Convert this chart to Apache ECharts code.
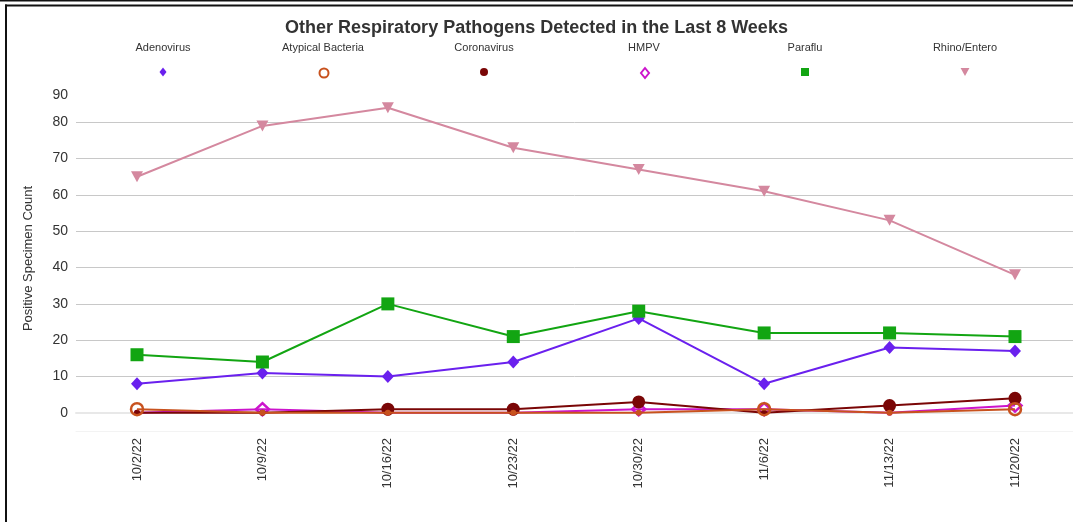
<!DOCTYPE html>
<html>
<head>
<meta charset="utf-8">
<script src="https://cdn.jsdelivr.net/npm/echarts@6/dist/echarts.min.js"></script>
<style>html,body{margin:0;padding:0;background:#fff}#c{width:1073px;height:522px}</style>
</head>
<body>
<div id="c"></div>
<script>
const categories = ['10/2/22','10/9/22','10/16/22','10/23/22','10/30/22','11/6/22','11/13/22','11/20/22'];
const adenovirus = [8, 11, 10, 14, 26, 8, 18, 17];
const atypicalBacteria = [1, 0, 0, 0, 0, 1, 0, 1];
const coronavirus = [0, 0, 1, 1, 3, 0, 2, 4];
const hmpv = [0, 1, 0, 0, 1, 1, 0, 2];
const paraflu = [16, 14, 30, 21, 28, 22, 22, 21];
const rhinoEntero = [65, 79, 84, 73, 67, 61, 53, 38];
const yTickLabels = [0, 10, 20, 30, 40, 50, 60, 70, 80, 90];
const yGridValues = [0, 10, 20, 30, 40, 50, 60, 70, 80];

const FONT = "'Liberation Sans', Arial, sans-serif";
const TRI_DOWN = 'path://M0,0L10,0L5,9Z';

const defs = [
  {name: 'Adenovirus', data: adenovirus, color: '#6a20ee', symbol: 'diamond', size: [12, 13], hollow: false, cx: 163, icon: 'diamond', iw: 7, ih: 9, z: 2},
  {name: 'Atypical Bacteria', data: atypicalBacteria, color: '#c8521e', symbol: 'circle', size: 12, hollow: true, cx: 323, icon: 'circle', iw: 9, ih: 9, z: 5},
  {name: 'Coronavirus', data: coronavirus, color: '#7a0606', symbol: 'circle', size: 13, hollow: false, cx: 484, icon: 'circle', iw: 8, ih: 8, z: 4},
  {name: 'HMPV', data: hmpv, color: '#cc14cc', symbol: 'diamond', size: [13, 12], hollow: true, cx: 644, icon: 'diamond', iw: 8, ih: 10, z: 3},
  {name: 'Paraflu', data: paraflu, color: '#12a512', symbol: 'rect', size: 13, hollow: false, cx: 805, icon: 'rect', iw: 8, ih: 8, z: 2},
  {name: 'Rhino/Entero', data: rhinoEntero, color: '#d4889f', symbol: TRI_DOWN, size: [12, 11], hollow: false, cx: 965, icon: TRI_DOWN, iw: 9, ih: 8, z: 2}
];

const chart = echarts.init(document.getElementById('c'), null, {renderer: 'canvas'});

const titles = [{
  text: 'Other Respiratory Pathogens Detected in the Last 8 Weeks',
  left: 'center', top: 19, padding: 0,
  textStyle: {fontFamily: FONT, fontSize: 18, fontWeight: 'bold', color: '#333'}
}];
defs.forEach(d => titles.push({
  text: d.name, left: d.cx, top: 42, padding: 0, textAlign: 'center',
  textStyle: {fontFamily: FONT, fontSize: 11, fontWeight: 'normal', color: '#333'}
}));

const legends = defs.map(d => ({
  data: [{name: d.name, icon: d.icon, itemStyle: d.hollow ? {color: '#fff', borderColor: d.color, borderWidth: 2} : {color: d.color, borderWidth: 0}}],
  left: d.cx - d.iw / 2, top: 72 - d.ih / 2, padding: 0,
  itemWidth: d.iw, itemHeight: d.ih,
  formatter: () => '',
  textStyle: {fontSize: 1}
}));

const series = defs.map(d => ({
  name: d.name, type: 'line', z: d.z,
  data: d.data.map(v => v === 0
    ? {value: v, symbol: 'circle', symbolSize: 6, itemStyle: {color: d.color, borderWidth: 0}}
    : v),
  xAxisIndex: 1, yAxisIndex: 1,
  symbol: d.symbol, symbolSize: d.size, showAllSymbol: true,
  clip: false,
  lineStyle: {color: d.color, width: 2},
  itemStyle: d.hollow ? {color: 'rgba(255,255,255,0)', borderColor: d.color, borderWidth: 2.5} : {color: d.color, borderWidth: 0},
  emphasis: {disabled: true},
  animation: false
}));

chart.setOption({
  animation: false,
  backgroundColor: '#fff',
  title: titles,
  legend: legends,
  grid: [
    {left: 76, right: 0, top: 86, bottom: 91},
    {left: 137, right: 58, top: 86, bottom: 91}
  ],
  xAxis: [
    {gridIndex: 0, type: 'value', min: 0, max: 1, position: 'top', axisLine: {show: true, lineStyle: {color: '#e8e8e8', width: 2}}, axisTick: {show: false}, axisLabel: {show: false}, splitLine: {show: false}},
    {gridIndex: 1, type: 'category', data: categories, boundaryGap: false,
     axisLine: {show: false}, axisTick: {show: false}, splitLine: {show: false},
     axisLabel: {rotate: 90, margin: 7, fontFamily: FONT, fontSize: 13, color: '#333', interval: 0}},
    {gridIndex: 0, type: 'value', min: 0, max: 1, position: 'bottom', axisLine: {show: true, lineStyle: {color: '#f3f3f3', width: 1}}, axisTick: {show: false}, axisLabel: {show: false}, splitLine: {show: false}}
  ],
  yAxis: [
    {gridIndex: 0, type: 'value', min: -5, max: 90,
     name: 'Positive Specimen Count', nameLocation: 'middle', nameGap: 41,
     nameTextStyle: {fontFamily: FONT, fontSize: 13, color: '#333'},
     axisLine: {show: false},
     axisTick: {show: false, customValues: yGridValues},
     axisLabel: {customValues: yTickLabels, margin: 8, fontFamily: FONT, fontSize: 14, color: '#333',
       formatter: v => v === 90 ? '{t|90}' : String(v),
       rich: {t: {fontFamily: FONT, fontSize: 14, color: '#333', padding: [18, 0, 0, 0]}}},
     splitLine: {show: true, lineStyle: {color: '#c8c8c8', width: 1}}},
    {gridIndex: 1, type: 'value', min: -5, max: 90, show: false, splitLine: {show: false}}
  ],
  graphic: [
    {type: 'rect', shape: {x: 0, y: 0, width: 1073, height: 1.5}, style: {fill: '#111'}, z: 100},
    {type: 'rect', shape: {x: 5, y: 4.5, width: 1068, height: 2}, style: {fill: '#111'}, z: 100},
    {type: 'rect', shape: {x: 5, y: 4.5, width: 2, height: 518}, style: {fill: '#111'}, z: 100}
  ],
  series: series
});
</script>
</body>
</html>
